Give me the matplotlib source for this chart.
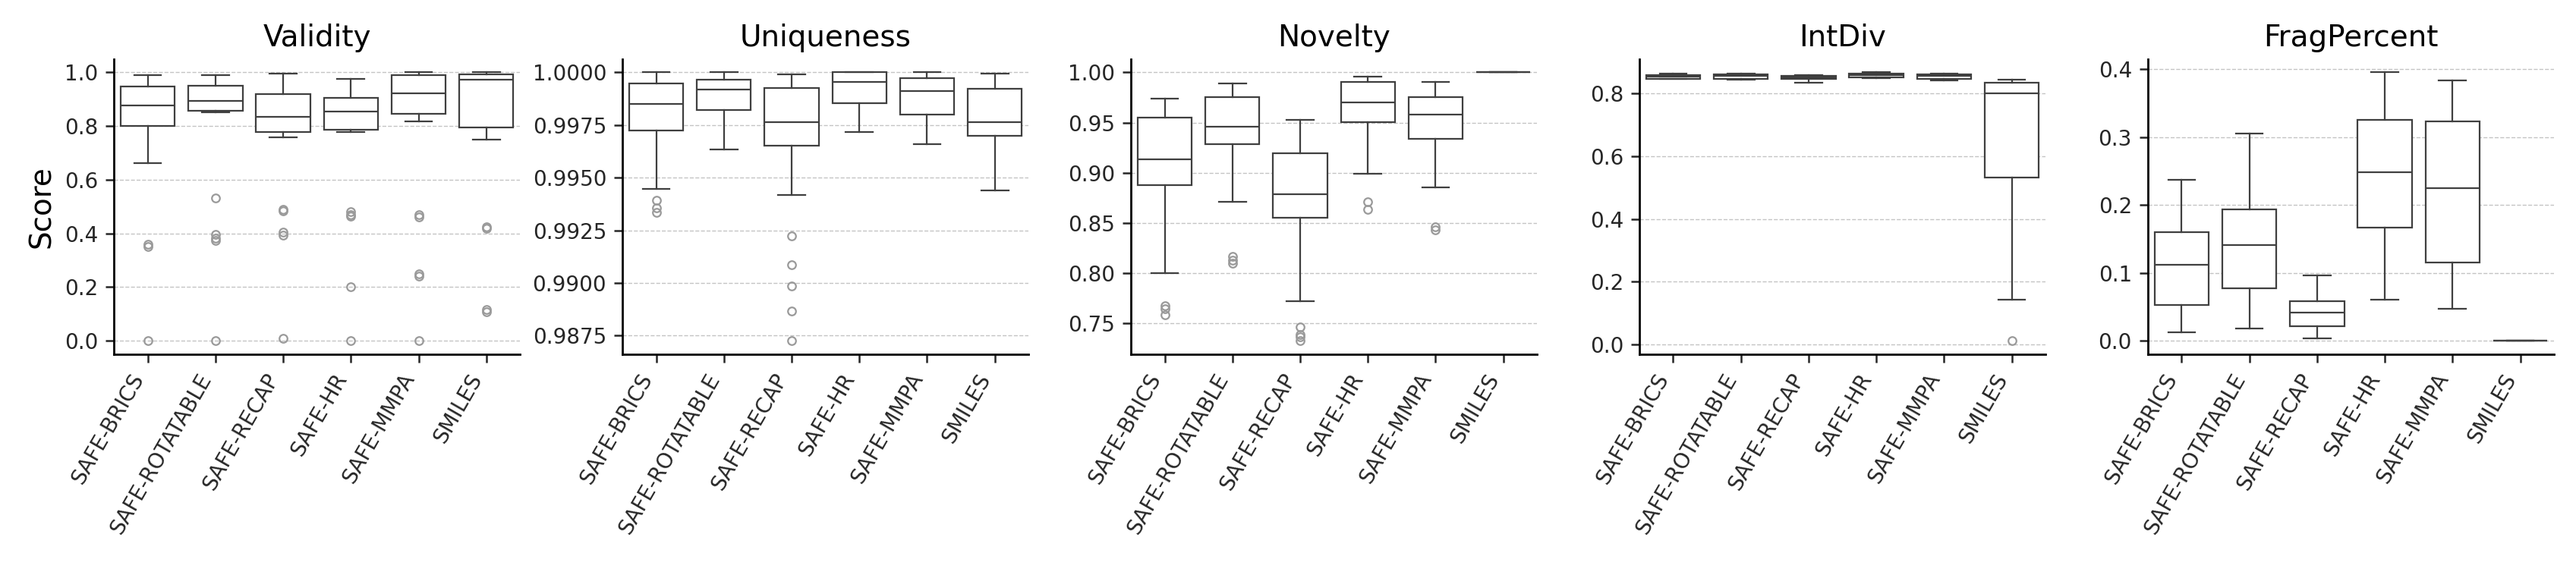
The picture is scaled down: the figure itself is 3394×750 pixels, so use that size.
import matplotlib
matplotlib.use("Agg")
import matplotlib.pyplot as plt
from matplotlib.ticker import FormatStrFormatter

methods = ["SAFE-BRICS", "SAFE-ROTATABLE", "SAFE-RECAP", "SAFE-HR", "SAFE-MMPA", "SMILES"]
metrics = ["Validity", "Uniqueness", "Novelty", "IntDiv", "FragPercent"]

# box statistics (per method, same order as `methods`)
validity_whislo = [0.663, 0.850, 0.759, 0.777, 0.816, 0.749]
validity_q1 = [0.799, 0.856, 0.779, 0.787, 0.846, 0.796]
validity_med = [0.876, 0.895, 0.833, 0.853, 0.923, 0.974]
validity_q3 = [0.946, 0.950, 0.918, 0.906, 0.990, 0.992]
validity_whishi = [0.991, 0.990, 0.995, 0.977, 1.000, 1.000]
validity_fliers = [[0.360, 0.352, 0.0],
                   [0.532, 0.395, 0.382, 0.372, 0.0],
                   [0.489, 0.484, 0.404, 0.392, 0.008],
                   [0.480, 0.470, 0.464, 0.201, 0.0],
                   [0.470, 0.462, 0.248, 0.240, 0.0],
                   [0.423, 0.418, 0.116, 0.107]]

uniq_whislo = [0.99445, 0.99635, 0.99418, 0.99716, 0.99660, 0.99440]
uniq_q1 = [0.99725, 0.99821, 0.99653, 0.99855, 0.99798, 0.99700]
uniq_med = [0.99851, 0.99918, 0.99762, 0.99954, 0.99913, 0.99764]
uniq_q3 = [0.99946, 0.99967, 0.99924, 1.00000, 0.99971, 0.99921]
uniq_whishi = [1.00000, 1.00000, 0.99990, 1.00000, 1.00000, 0.99993]
uniq_fliers = [[0.99394, 0.99358, 0.99336],
               [],
               [0.99224, 0.99086, 0.98985, 0.98867, 0.98726],
               [], [], []]

novelty_whislo = [0.8004, 0.8715, 0.7724, 0.8994, 0.8858, 1.0]
novelty_q1 = [0.8881, 0.9282, 0.8556, 0.9501, 0.9342, 1.0]
novelty_med = [0.9138, 0.9456, 0.8790, 0.9698, 0.9577, 1.0]
novelty_q3 = [0.9549, 0.9753, 0.9194, 0.9904, 0.9753, 1.0]
novelty_whishi = [0.9735, 0.9887, 0.9524, 0.9955, 0.9902, 1.0]
novelty_fliers = [[0.768, 0.765, 0.759],
                  [0.817, 0.813, 0.810],
                  [0.7465, 0.739, 0.7364, 0.733],
                  [0.8712, 0.8637],
                  [0.846, 0.843],
                  []]

intdiv_whislo = [0.845, 0.844, 0.834, 0.848, 0.842, 0.143]
intdiv_q1 = [0.847, 0.847, 0.845, 0.850, 0.847, 0.531]
intdiv_med = [0.853, 0.855, 0.852, 0.858, 0.856, 0.800]
intdiv_q3 = [0.859, 0.861, 0.857, 0.864, 0.861, 0.835]
intdiv_whishi = [0.862, 0.864, 0.858, 0.867, 0.864, 0.844]
intdiv_fliers = [[], [], [], [], [], [0.012]]

frag_whislo = [0.0123, 0.0179, 0.0037, 0.0605, 0.0471, 0.0]
frag_q1 = [0.0527, 0.0777, 0.0213, 0.1670, 0.1154, 0.0]
frag_med = [0.1113, 0.1408, 0.0415, 0.2487, 0.2245, 0.0]
frag_q3 = [0.1595, 0.1931, 0.0583, 0.3260, 0.3231, 0.0]
frag_whishi = [0.2375, 0.3048, 0.0967, 0.3955, 0.3832, 0.0]
frag_fliers = [[], [], [], [], [], []]

stats_by_metric = {
    "Validity": (validity_whislo, validity_q1, validity_med, validity_q3, validity_whishi, validity_fliers),
    "Uniqueness": (uniq_whislo, uniq_q1, uniq_med, uniq_q3, uniq_whishi, uniq_fliers),
    "Novelty": (novelty_whislo, novelty_q1, novelty_med, novelty_q3, novelty_whishi, novelty_fliers),
    "IntDiv": (intdiv_whislo, intdiv_q1, intdiv_med, intdiv_q3, intdiv_whishi, intdiv_fliers),
    "FragPercent": (frag_whislo, frag_q1, frag_med, frag_q3, frag_whishi, frag_fliers),
}
formats = {"Validity": "%.1f", "Uniqueness": "%.4f", "Novelty": "%.2f",
           "IntDiv": "%.1f", "FragPercent": "%.1f"}

line_col = "#3f3f3f"
lw = 0.8

fig, axes = plt.subplots(1, 5, figsize=(16.97, 3.75), dpi=200)
fig.subplots_adjust(left=0.0442, right=0.9915, bottom=0.3778, top=0.8964, wspace=0.2514)

for ax, metric in zip(axes, metrics):
    wlo, q1, med, q3, whi, fl = stats_by_metric[metric]
    bstats = []
    for i in range(len(methods)):
        bstats.append({"whislo": wlo[i], "q1": q1[i], "med": med[i], "q3": q3[i],
                       "whishi": whi[i], "fliers": fl[i], "label": methods[i]})
    ax.bxp(bstats, positions=range(len(methods)), widths=0.8, capwidths=0.4,
           patch_artist=True, showfliers=True,
           boxprops=dict(facecolor="white", edgecolor=line_col, linewidth=lw),
           medianprops=dict(color=line_col, linewidth=lw),
           whiskerprops=dict(color=line_col, linewidth=lw),
           capprops=dict(color=line_col, linewidth=lw),
           flierprops=dict(marker="o", markersize=3.8, markerfacecolor="none",
                           markeredgecolor="#9a9a9a", markeredgewidth=0.8))
    ax.set_xlim(-0.5, len(methods) - 0.5)
    ax.set_xticks(range(len(methods)))
    ax.set_xticklabels(methods, rotation=60, ha="right", fontsize=10)
    ax.yaxis.set_major_formatter(FormatStrFormatter(formats[metric]))
    ax.tick_params(axis="y", labelsize=10, length=4, width=0.9, colors="#262626")
    ax.tick_params(axis="x", length=4, width=0.9, colors="#262626")
    ax.yaxis.grid(True, linestyle="--", linewidth=0.5, color="#c4c4c4")
    ax.set_axisbelow(True)
    for side in ["top", "right"]:
        ax.spines[side].set_visible(False)
    for side in ["left", "bottom"]:
        ax.spines[side].set_linewidth(1.0)
    ax.set_title(metric, fontsize=14)

axes[0].set_ylabel("Score", fontsize=14)

plt.savefig("out.png", dpi=200)
